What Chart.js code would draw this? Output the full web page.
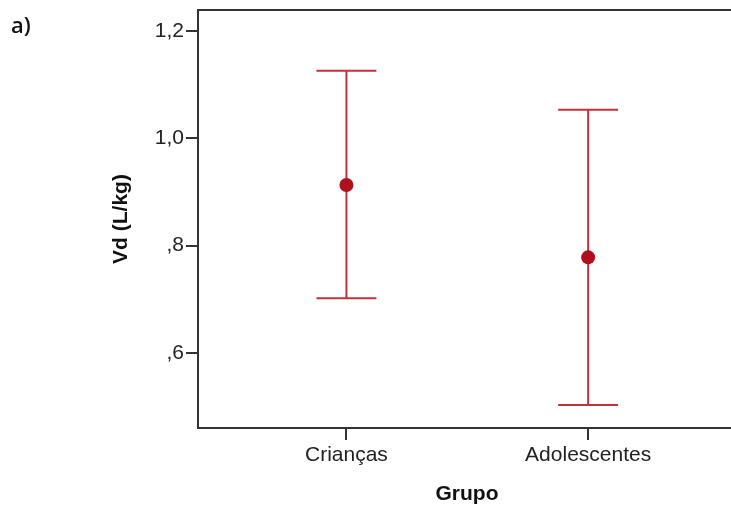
<!DOCTYPE html>
<html>
<head>
<meta charset="utf-8">
<script src="https://cdn.jsdelivr.net/npm/chart.js@4.4.1/dist/chart.umd.min.js"></script>
<style>
  html, body { margin: 0; padding: 0; background: #fff; }
  #wrap { width: 731px; height: 511px; }
</style>
</head>
<body>
<div id="wrap"><canvas id="chart" width="731" height="511"></canvas></div>
<script>
// ── Data ──────────────────────────────────────────────────────────────────────
const groups = ['Crianças', 'Adolescentes'];
const means  = [0.913, 0.778];
const lower  = [0.702, 0.503];
const upper  = [1.126, 1.053];
const yTicks = [0.6, 0.8, 1.0, 1.2];

const LINE_RED = '#c4303c';
const DOT_RED  = '#b0101c';
const AXIS     = '#333333';
const CAP      = 0.124; // half cap width in x units

// ── Datasets built from the arrays ────────────────────────────────────────────
const datasets = [];
groups.forEach((g, i) => {
    const x = i + 1;
    const lineStyle = {
        type: 'line', borderColor: LINE_RED, borderWidth: 2,
        pointRadius: 0, fill: false, order: 1
    };
    datasets.push({ ...lineStyle, data: [{ x, y: lower[i] }, { x, y: upper[i] }] });
    datasets.push({ ...lineStyle, data: [{ x: x - CAP, y: upper[i] }, { x: x + CAP, y: upper[i] }] });
    datasets.push({ ...lineStyle, data: [{ x: x - CAP, y: lower[i] }, { x: x + CAP, y: lower[i] }] });
});
datasets.push({
    type: 'scatter',
    data: means.map((m, i) => ({ x: i + 1, y: m })),
    pointRadius: 7, pointBackgroundColor: DOT_RED, pointBorderWidth: 0,
    order: 0
});

// ── Frame + titles ────────────────────────────────────────────────────────────
const decorations = {
    id: 'decorations',
    afterDraw(chart) {
        const { ctx, chartArea } = chart;
        ctx.save();
        ctx.strokeStyle = AXIS;
        ctx.lineWidth = 2;
        ctx.beginPath();
        ctx.moveTo(chartArea.left, chartArea.top);
        ctx.lineTo(chartArea.right, chartArea.top);
        ctx.stroke();

        ctx.fillStyle = '#111';
        ctx.textAlign = 'center';
        ctx.textBaseline = 'middle';
        ctx.font = "bold 21px 'Liberation Sans', Arial, sans-serif";
        ctx.fillText('Grupo', 467, 494);

        ctx.translate(121, 219);
        ctx.rotate(-Math.PI / 2);
        ctx.fillText('Vd (L/kg)', 0, 0);
        ctx.restore();

        ctx.save();
        ctx.fillStyle = '#111';
        ctx.textAlign = 'left';
        ctx.textBaseline = 'alphabetic';
        ctx.font = "600 22px 'Open Sans', 'DejaVu Sans', sans-serif";
        ctx.fillText('a)', 11, 33);
        ctx.restore();
    }
};

Chart.defaults.font.family = "'Liberation Sans', Arial, sans-serif";

new Chart(document.getElementById('chart').getContext('2d'), {
    type: 'scatter',
    data: { datasets },
    options: {
        responsive: false,
        animation: false,
        layout: { autoPadding: false, padding: { top: 10, right: 0, left: 0, bottom: 0 } },
        plugins: { legend: { display: false }, tooltip: { enabled: false } },
        scales: {
            x: {
                type: 'linear', min: 0.386, max: 2.591,
                afterBuildTicks: s => { s.ticks = groups.map((g, i) => ({ value: i + 1 })); },
                afterFit: s => { s.height = 83; s.paddingLeft = 0; s.paddingRight = 0; },
                ticks: {
                    callback: v => groups[v - 1],
                    font: { size: 21 }, color: '#222', padding: 3,
                    maxRotation: 0, autoSkip: false
                },
                grid: { drawOnChartArea: false, drawTicks: true, tickLength: 12, color: AXIS, lineWidth: 2 },
                border: { display: true, color: AXIS, width: 2 }
            },
            y: {
                min: 0.46, max: 1.239,
                afterBuildTicks: s => { s.ticks = yTicks.map(v => ({ value: v })); },
                afterFit: s => { s.width = 198; s.paddingTop = 0; s.paddingBottom = 0; },
                ticks: {
                    callback: v => v.toFixed(1).replace('.', ',').replace(/^0/, ''),
                    font: { size: 21 }, color: '#222', padding: 2
                },
                grid: { drawOnChartArea: false, drawTicks: true, tickLength: 12, color: AXIS, lineWidth: 2 },
                border: { display: true, color: AXIS, width: 2 }
            }
        }
    },
    plugins: [decorations]
});
</script>
</body>
</html>
